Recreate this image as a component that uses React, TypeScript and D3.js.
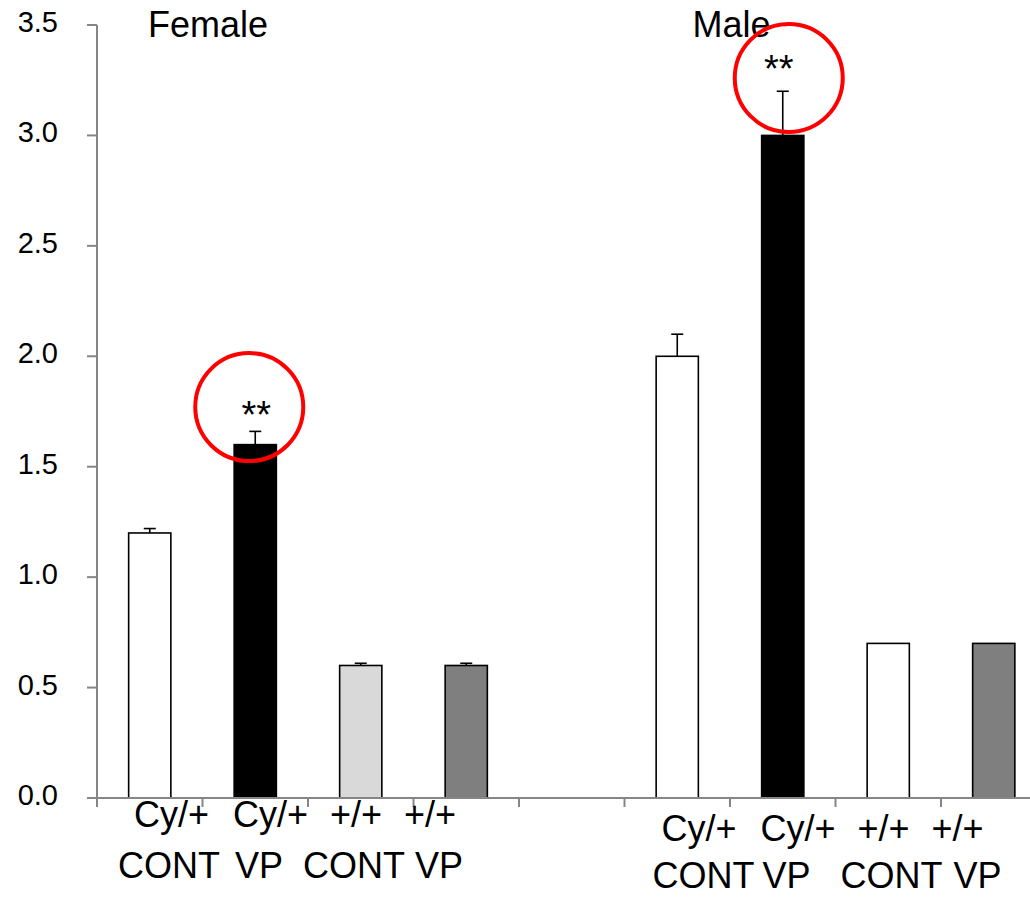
import React from "react"
import * as d3 from "d3"

// ── Data ───────────────────────────────────────────────────────────────────────

const groups = ["Female", "Male"]
const categories = ["F-CyCONT", "F-CyVP", "F-WtCONT", "F-WtVP", "gap", "M-CyCONT", "M-CyVP", "M-WtCONT", "M-WtVP"]
const groupOf = ["Female", "Female", "Female", "Female", "", "Male", "Male", "Male", "Male"]
const values = [1.2, 1.6, 0.6, 0.6, null, 2.0, 3.0, 0.7, 0.7]
const errors = [0.02, 0.06, 0.01, 0.01, null, 0.1, 0.2, 0, 0]
const fills = ["#ffffff", "#000000", "#d9d9d9", "#7f7f7f", null, "#ffffff", "#000000", "#ffffff", "#7f7f7f"]
const yTicks = [0, 0.5, 1.0, 1.5, 2.0, 2.5, 3.0, 3.5]

const labelLine1 = ["Cy/+", "Cy/+", "+/+", "+/+"]
const labelLine2 = ["CONT", "VP", "CONT", "VP"]

// significance marks: bar index and circle centre in data units
const sigBars = [1, 6]
const sigCircleY = [1.77, 3.26]

// ── Layout ─────────────────────────────────────────────────────────────────────

const W = 1030
const H = 897
const axisX = 97
const step = 105.5
const line1Off = [37, 136, 233, 307]
const line2Off = [[21, 138, 206, 318], [28, 138, 216, 329]]
const labelY = [[827, 878], [841, 888]]
const circleDx = [-6, 6]
const starDx = [1, -4]
const starDy = [3, 9]

const AXIS = "#868686"
const FONT = "'Liberation Sans', Arial, sans-serif"

export default function App() {
  const y = d3.scaleLinear().domain([0, 3.5]).range([798, 25])
  const x = d3
    .scaleBand<string>()
    .domain(categories)
    .range([axisX, axisX + step * categories.length])
    .padding(0)
  const bw = x.bandwidth() * 0.4
  const cx = (i: number) => (x(categories[i]) as number) + x.bandwidth() / 2

  const groupStart = (g: string) => x(categories[groupOf.indexOf(g)]) as number

  return (
    <div style={{ position: "absolute", left: 0, top: 0 }}>
      <svg width={W} height={H} style={{ display: "block", background: "#fff" }} fontFamily={FONT}>
        {/* Bars */}
        {values.map((v, i) =>
          v == null ? null : (
            <rect
              key={`b-${i}`}
              x={cx(i) - bw / 2}
              y={y(v)}
              width={bw}
              height={y(0) - y(v)}
              fill={fills[i] as string}
              stroke="#000"
              strokeWidth={1.6}
            />
          ),
        )}

        {/* Error bars */}
        {values.map((v, i) => {
          const e = errors[i]
          if (v == null || !e) return null
          return (
            <g key={`e-${i}`} stroke="#000" strokeWidth={1.6}>
              <line x1={cx(i)} x2={cx(i)} y1={y(v)} y2={y(v + e)} />
              <line x1={cx(i) - 6} x2={cx(i) + 6} y1={y(v + e)} y2={y(v + e)} />
            </g>
          )
        })}

        {/* Y axis */}
        <line x1={axisX} x2={axisX} y1={y(3.5)} y2={y(0)} stroke={AXIS} strokeWidth={2} />
        {yTicks.map(t => (
          <g key={t}>
            <line x1={axisX - 10} x2={axisX} y1={y(t)} y2={y(t)} stroke={AXIS} strokeWidth={2} />
            <text x={58} y={y(t) + 7} textAnchor="end" fontSize={29} fill="#000">
              {t.toFixed(1)}
            </text>
          </g>
        ))}

        {/* X axis */}
        <line x1={axisX - 10} x2={W} y1={y(0)} y2={y(0)} stroke={AXIS} strokeWidth={2} />
        {categories.concat(["end"]).map((c, i) => {
          const tx = axisX + i * x.step()
          return <line key={`xt-${i}`} x1={tx} x2={tx} y1={y(0)} y2={y(0) + 9} stroke={AXIS} strokeWidth={2} />
        })}

        {/* Category labels */}
        {groups.map((g, gi) => {
          const gx = groupStart(g)
          return (
            <g key={`lab-${g}`} fontSize={36} fill="#000">
              {labelLine1.map((t, j) => (
                <text key={`l1-${j}`} x={gx + line1Off[j]} y={labelY[gi][0]}>
                  {t}
                </text>
              ))}
              {labelLine2.map((t, j) => (
                <text key={`l2-${j}`} x={gx + line2Off[gi][j]} y={labelY[gi][1]}>
                  {t}
                </text>
              ))}
            </g>
          )
        })}

        {/* Group titles */}
        {groups.map(g => (
          <text key={`t-${g}`} x={groupStart(g) + (g === "Female" ? 51 : 68)} y={37} fontSize={36} fill="#000">
            {g}
          </text>
        ))}

        {/* Significance marks */}
        {sigBars.map((bi, k) => {
          const top = (values[bi] as number) + (errors[bi] as number)
          return (
            <g key={`s-${k}`}>
              <text
                x={cx(bi) + starDx[k]}
                y={y(top) - starDy[k]}
                textAnchor="middle"
                fontSize={38}
                fill="#000"
              >
                **
              </text>
              <circle
                cx={cx(bi) + circleDx[k]}
                cy={y(sigCircleY[k])}
                r={54}
                fill="none"
                stroke="#ff0000"
                strokeWidth={4}
              />
            </g>
          )
        })}
      </svg>
    </div>
  )
}
